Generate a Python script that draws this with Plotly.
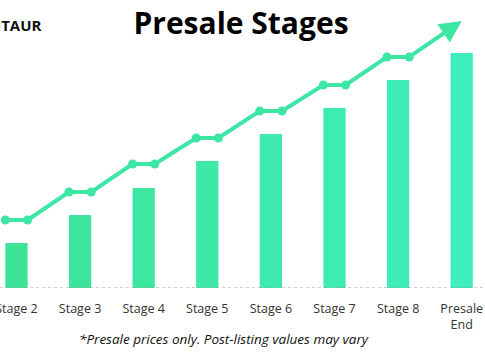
import plotly.graph_objects as go

stages = ["Stage 2", "Stage 3", "Stage 4", "Stage 5", "Stage 6", "Stage 7", "Stage 8", "Presale<br>End"]
bar_values = [45, 73, 100, 127, 154, 180, 208, 235]
trend_values = [68, 96, 124, 150, 177, 203, 231]
arrow_tip_value = 267
bar_colors = ["#3de396", "#3de59c", "#3de7a2", "#3ee8a8", "#3ee9ad", "#3eebb2", "#3eecb7", "#3eeebc"]
line_color = "#3ee6a6"
FONT = "Open Sans"

half = 0.175
xs = list(range(len(stages)))

line_x, line_y = [], []
for i, v in enumerate(trend_values):
    line_x += [xs[i] - half, xs[i] + half]
    line_y += [v, v]

fig = go.Figure()
fig.add_trace(go.Bar(x=xs, y=bar_values, width=0.35, marker=dict(color=bar_colors, line=dict(width=0)),
                     hoverinfo="skip"))
fig.add_trace(go.Scatter(x=line_x, y=line_y, mode="lines+markers",
                         line=dict(color=line_color, width=4),
                         marker=dict(color=line_color, size=9), hoverinfo="skip"))

fig.add_annotation(x=xs[-1], y=arrow_tip_value, ax=line_x[-1], ay=line_y[-1],
                   xref="x", yref="y", axref="x", ayref="y", text="", showarrow=True,
                   arrowhead=2, arrowsize=1.1, arrowwidth=4, arrowcolor=line_color, standoff=0, startstandoff=0)

fig.add_shape(type="line", xref="paper", yref="y", x0=0, x1=1, y0=0, y1=0,
              line=dict(color="#9a9a9a", width=1, dash="dot"))

fig.add_annotation(xref="paper", yref="paper", x=44/485, y=(360-25-72)/288, xanchor="right", yanchor="middle",
                   text="<b>MTAUR</b>", showarrow=False, font=dict(size=15, color="#111111", family=FONT))

fig.add_annotation(xref="paper", yref="paper", x=223.5/485, y=-(339-288)/288, xanchor="center", yanchor="middle",
                   text="<i>*Presale prices only. Post-listing values may vary</i>", showarrow=False,
                   font=dict(size=13.5, color="#111111", family=FONT))

fig.update_layout(
    width=485, height=360,
    margin=dict(l=0, r=0, t=0, b=72),
    paper_bgcolor="white", plot_bgcolor="white",
    showlegend=False,
    title=dict(text="<b>Presale Stages</b>", x=241/485, xanchor="center", y=1 - 23/360, yanchor="middle",
               font=dict(size=30, color="#000000", family=FONT)),
    xaxis=dict(range=[-0.259, 7.366], tickmode="array", tickvals=xs, ticktext=stages,
               showgrid=False, zeroline=False, showline=False, automargin=False,
               ticks="outside", ticklen=9, tickcolor="rgba(0,0,0,0)", ticklabeloverflow="allow",
               tickfont=dict(size=12.5, color="#333333", family=FONT)),
    yaxis=dict(range=[0, 288], visible=False),
)

fig.write_html("out.html", config={"displayModeBar": False},
               post_script="document.body.style.margin='0';document.body.style.overflow='hidden';")
